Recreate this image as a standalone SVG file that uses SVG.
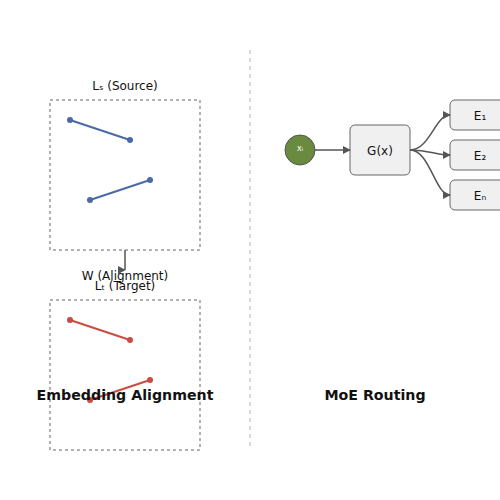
<svg xmlns="http://www.w3.org/2000/svg" width="500" height="500" viewBox="0 0 500 500">
<style>
text{font-family:"DejaVu Sans",sans-serif;fill:#111}
.lbl{font-size:12px;text-anchor:middle}
.ttl{font-size:14.2px;font-weight:bold;text-anchor:middle}
.space{fill:none;stroke:#999;stroke-width:1.5;stroke-dasharray:3,3}
.src{stroke:#4a6aa5;stroke-width:2;fill:none}
.srcd{fill:#4a6aa5}
.tgt{stroke:#c94c40;stroke-width:2;fill:none}
.tgtd{fill:#c94c40}
.box{fill:#f0f0f0;stroke:#666;stroke-width:1}
.conn{fill:none;stroke:#555;stroke-width:1.5}
</style>
<defs>
<marker id="arr" viewBox="0 0 10 10" refX="9" refY="5" markerWidth="8" markerHeight="8" markerUnits="userSpaceOnUse">
<path d="M0,0 L10,5 L0,10 z" fill="#555"/>
</marker>
</defs>
<line x1="250" y1="50" x2="250" y2="450" stroke="#ccc" stroke-width="1.5" stroke-dasharray="4,4"/>
<g id="source">
<text class="lbl" x="125" y="90">Lₛ (Source)</text>
<rect class="space" x="50" y="100" width="150" height="150"/>
<line class="src" x1="70" y1="120" x2="130" y2="140"/>
<circle class="srcd" cx="70" cy="120" r="3"/><circle class="srcd" cx="130" cy="140" r="3"/>
<line class="src" x1="90" y1="200" x2="150" y2="180"/>
<circle class="srcd" cx="90" cy="200" r="3"/><circle class="srcd" cx="150" cy="180" r="3"/>
</g>
<g id="target">
<text class="lbl" x="125" y="290">Lₜ (Target)</text>
<rect class="space" x="50" y="300" width="150" height="150"/>
<line class="tgt" x1="70" y1="320" x2="130" y2="340"/>
<circle class="tgtd" cx="70" cy="320" r="3"/><circle class="tgtd" cx="130" cy="340" r="3"/>
<line class="tgt" x1="90" y1="400" x2="150" y2="380"/>
<circle class="tgtd" cx="90" cy="400" r="3"/><circle class="tgtd" cx="150" cy="380" r="3"/>
</g>
<g id="xi">
<circle cx="300" cy="150" r="15" fill="#6a8a40" stroke="#555" stroke-width="1"/>
<text x="300" y="151" font-size="8" text-anchor="middle" style="fill:#fff">xᵢ</text>
</g>
<g id="gate">
<rect class="box" x="350" y="125" width="60" height="50" rx="5"/>
<text class="lbl" x="380" y="155">G(x)</text>
</g>
<g id="e1">
<rect class="box" x="450" y="100" width="60" height="30" rx="5"/>
<text class="lbl" x="480" y="120">E₁</text>
</g>
<g id="e2">
<rect class="box" x="450" y="140" width="60" height="30" rx="5"/>
<text class="lbl" x="480" y="160">E₂</text>
</g>
<g id="en">
<rect class="box" x="450" y="180" width="60" height="30" rx="5"/>
<text class="lbl" x="480" y="200">Eₙ</text>
</g>
<g id="connectors">
<path class="conn" d="M125,250 L125,270" marker-end="url(#arr)"/>
<path class="conn" d="M315,150 L350,150" marker-end="url(#arr)"/>
<path class="conn" d="M410,150 C430,150 435,115 450,115" marker-end="url(#arr)"/>
<path class="conn" d="M410,150 C430,150 435,155 450,155" marker-end="url(#arr)"/>
<path class="conn" d="M410,150 C430,150 435,195 450,195" marker-end="url(#arr)"/>
</g>
<text class="lbl" x="125" y="280">W (Alignment)</text>
<text class="ttl" x="125" y="400">Embedding Alignment</text>
<text class="ttl" x="375" y="400">MoE Routing</text>
</svg>
